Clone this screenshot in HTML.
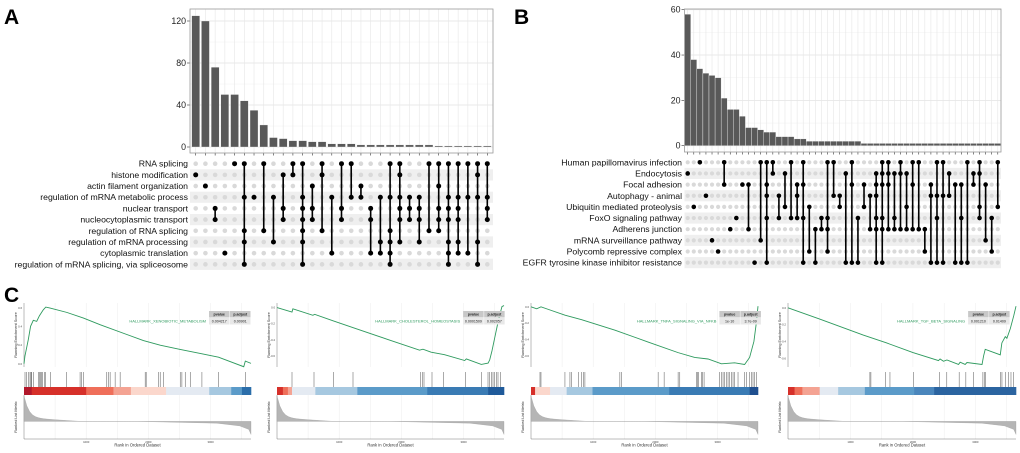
<!DOCTYPE html>
<html><head><meta charset="utf-8">
<style>
html,body{margin:0;padding:0;background:#fff;}
svg{display:block;font-family:"Liberation Sans",sans-serif;}
</style></head>
<body>
<svg id="fig" width="1020" height="453" viewBox="0 0 1020 453" xmlns="http://www.w3.org/2000/svg">
<text x="4" y="24" font-size="21" font-weight="bold">A</text>
<text x="514" y="24" font-size="21" font-weight="bold">B</text>
<text x="4" y="302" font-size="21" font-weight="bold">C</text>
<g id="gA"></g>
<g id="gB"></g>
<g id="gC"></g>
</svg>
<script>
const NS='http://www.w3.org/2000/svg';
// ---- Panel A data ----
const setsA=['RNA splicing','histone modification','actin filament organization','regulation of mRNA metabolic process','nuclear transport','nucleocytoplasmic transport','regulation of RNA splicing','regulation of mRNA processing','cytoplasmic translation','regulation of mRNA splicing, via spliceosome'];
const countsA=[125,120,76,50,50,44,35,21,9,8,6,6,5,5,3,3,3,2,2,2,2,2,2,2,2,1,1,1,1,1,1];
const membersA=[[1],[2],[4,5],[8],[0],[0,3,6,7,9],[3],[0,6],[3,7],[1,4,5],[0,1],[0,3,4,5,6,7,9],[2,4,5],[0,1,6],[3,8],[0,4,5],[0,3],[2,3],[4,5,8],[3,7,8],[0,3,6,7,8,9],[0,1,3,4,5,7],[3,4,5],[3,4,5,7],[0,6],[0,2,4,5,6],[0,3,4,5,7,8,9],[0,3,4,5,7,8],[0,3,8],[0,1,3,7,9],[0,3,4,5]];
const ticksA=[0,40,80,120];
// ---- Panel B data ----
const setsB=['Human papillomavirus infection','Endocytosis','Focal adhesion','Autophagy - animal','Ubiquitin mediated proteolysis','FoxO signaling pathway','Adherens junction','mRNA surveillance pathway','Polycomb repressive complex','EGFR tyrosine kinase inhibitor resistance'];
const countsB=[58,38,34,32,31,30,21,16,16,13,8,8,7,6,6,4,4,4,3,3,2,2,2,2,2,2,2,2,2,1,1,1,1,1,1,1,1,1,1,1,1,1,1,1,1,1,1,1,1,1,1,1];
const membersB=[[1],[4],[0],[3],[7],[8],[0,2],[6],[5],[2],[2,6],[9],[0,7],[0,2,3,5,9],[0,1],[3,5],[1,4],[0,5],[2,3,5],[0,2,5,9],[4,8],[6,9],[5,6],[0,5,6,8],[0,3],[3,4],[1,9],[0,2,9],[5,9],[2,4],[3,6],[1,2,3,5,6,9],[0,1,2,5,6,9],[0,1,2,6],[1,5,6],[0,1,6],[1,4,6],[0,2,6],[0,6],[6,8],[2,3,9],[0,3,5,9],[0,3,9],[1,3],[2,9],[2,5,9],[0,9],[1,2],[0,1,4,5],[2,7],[5,8],[0,4]];
const ticksB=[0,20,40,60];

function el(p,tag,attrs,name,text){
  const e=document.createElementNS(NS,tag);
  for(const k in attrs)e.setAttribute(k,attrs[k]);
  
  
  if(text!==undefined)e.textContent=text;
  p.appendChild(e);return e;
}

function upset(g,cfg,sets,counts,members,ticks){
  const n=counts.length;
  const cx=i=>cfg.c0+i*cfg.step;
  const y=v=>cfg.zeroY-(v-0)*(cfg.zeroY-cfg.topValY)/cfg.maxTick;
  const ry=r=>cfg.r0+r*cfg.rstep;
  el(g,'rect',{x:cfg.x0,y:cfg.boxTop,width:cfg.x1-cfg.x0,height:cfg.boxBot-cfg.boxTop,fill:'#fff',stroke:'none'},'bar-panel-bg');
  for(const t of ticks){
    const tmid=t+ (ticks[1]-ticks[0])/2;
    el(g,'line',{x1:cfg.x0,x2:cfg.x1,y1:y(t),y2:y(t),stroke:'#e3e3e3','stroke-width':0.8},'grid-major');
    if(y(tmid)>cfg.boxTop)el(g,'line',{x1:cfg.x0,x2:cfg.x1,y1:y(tmid),y2:y(tmid),stroke:'#f0f0f0','stroke-width':0.5},'grid-minor');
    el(g,'line',{x1:cfg.x0-3,x2:cfg.x0,y1:y(t),y2:y(t),stroke:'#333','stroke-width':0.6},'y-tick');
    el(g,'text',{x:cfg.x0-4,y:y(t)+3,'font-size':8.8,'text-anchor':'end',fill:'#222'},'y-tick-label',String(t));
  }
  for(let i=0;i<n;i++){
    el(g,'line',{x1:cx(i),x2:cx(i),y1:cfg.boxTop,y2:cfg.boxBot,stroke:'#e6e6e6','stroke-width':0.6},'grid-col');
    el(g,'line',{x1:cx(i),x2:cx(i),y1:cfg.boxBot,y2:cfg.boxBot+2.5,stroke:'#333','stroke-width':0.6},'x-tick');
  }
  for(let i=0;i<n;i++){
    el(g,'rect',{x:cx(i)-cfg.bw/2,y:y(counts[i]),width:cfg.bw,height:y(0)-y(counts[i]),fill:'#595959',stroke:'#fff','stroke-width':0.3},'bar-'+i);
  }
  el(g,'rect',{x:cfg.x0,y:cfg.boxTop,width:cfg.x1-cfg.x0,height:cfg.boxBot-cfg.boxTop,fill:'none',stroke:'#9a9a9a','stroke-width':0.8},'bar-panel-border');
  for(let r=0;r<sets.length;r++){
    if(r%2===1)el(g,'rect',{x:cfg.x0,y:ry(r)-cfg.rstep/2,width:cfg.x1-cfg.x0,height:cfg.rstep,fill:'#efefef'},'row-stripe');
    el(g,'text',{x:cfg.labelX,y:ry(r)+3,'font-size':cfg.fs,'text-anchor':'end',fill:'#111'},'set-label',sets[r]);
  }
  for(let i=0;i<n;i++){
    const m=members[i];
    for(let r=0;r<sets.length;r++){
      if(!m.includes(r))el(g,'circle',{cx:cx(i),cy:ry(r),r:cfg.dr,fill:'#d9d9d9'},'dot-inactive');
    }
    const mn=Math.min(...m),mx=Math.max(...m);
    if(mx>mn)el(g,'line',{x1:cx(i),x2:cx(i),y1:ry(mn),y2:ry(mx),stroke:'#000','stroke-width':1.6},'intersection-line');
    for(const r of m)el(g,'circle',{cx:cx(i),cy:ry(r),r:cfg.dr+0.2,fill:'#000'},'dot-active');
  }
}
upset(document.getElementById('gA'),{x0:190,x1:493,boxTop:9,boxBot:153,zeroY:147,topValY:21,maxTick:120,c0:195.7,step:9.72,bw:8,r0:163.7,rstep:11.18,dr:2.3,labelX:188,fs:8.7},setsA,countsA,membersA,ticksA);
upset(document.getElementById('gB'),{x0:684.5,x1:1001,boxTop:9,boxBot:152,zeroY:145.7,topValY:9.7,maxTick:60,c0:687.7,step:6.08,bw:6,r0:162.3,rstep:11.15,dr:2.1,labelX:682,fs:8.7},setsB,countsB,membersB,ticksB);

// ---- Panel C data (GSEA) ----
const namesC=['HALLMARK_XENOBIOTIC_METABOLISM','HALLMARK_CHOLESTEROL_HOMEOSTASIS','HALLMARK_TNFA_SIGNALING_VIA_NFKB','HALLMARK_TGF_BETA_SIGNALING'];
const pvalC=['0.004217','0.0001509','1e-10','0.001210'];
const padjC=['0.00901','0.002057','3.7e-09','0.01409'];
const esRank1=[0,0.004,0.019,0.029,0.041,0.056,0.068,0.085,0.096,0.115,0.188,0.262,0.335,0.526,0.6,0.688,0.776,0.857,0.968,0.975,1.0];
const esVal1=[0,0.082,0.261,0.404,0.468,0.457,0.518,0.582,0.611,0.6,0.554,0.493,0.421,0.25,0.2,0.154,0.111,0.071,-0.032,0.029,0.004];
const esRank2=[0,0.066,0.07,0.158,0.166,0.247,0.342,0.489,0.628,0.643,0.679,0.738,0.827,0.834,0.9,0.93,0.937,0.947,0.959,0.971,0.981,0.991,1.0];
const esVal2=[0,-0.056,-0.016,-0.096,-0.084,-0.164,-0.256,-0.396,-0.528,-0.516,-0.552,-0.584,-0.656,-0.636,-0.704,-0.688,-0.648,-0.536,-0.376,-0.216,-0.096,0.012,0.024];
const esRank3=[0,0.025,0.044,0.076,0.15,0.223,0.37,0.516,0.648,0.721,0.78,0.839,0.897,0.941,0.963,0.982,0.993,1];
const esVal3=[0,-0.024,0,-0.031,-0.102,-0.157,-0.286,-0.431,-0.561,-0.620,-0.639,-0.698,-0.686,-0.706,-0.620,-0.424,-0.188,0.008];
const esRank4=[0,0.139,0.330,0.433,0.548,0.660,0.667,0.682,0.697,0.748,0.755,0.777,0.785,0.851,0.858,0.865,0.931,0.938,0.953,0.960,0.975,0.990,1];
const esVal4=[0,-0.133,-0.323,-0.417,-0.531,-0.626,-0.607,-0.634,-0.619,-0.672,-0.645,-0.672,-0.649,-0.672,-0.569,-0.493,-0.558,-0.417,-0.342,-0.361,-0.247,-0.095,0.019];
const hits1=[3,8,13,18,21,23,28,43,46,50,53,56,61,65,80,128,168,173,178,248,253,258,273,288,363,366,403,408,418,468,473,483,498,533,583,663];
const hits2=[45,111,170,228,431,436,441,465,500,565,613,633,638,643,648,653,658,663,671];
const hits3=[27,30,102,117,122,142,152,157,162,267,272,382,400,442,447,497,500,504,512,515,520,567,572,577,582,587,592,597,602,607,612,622,642,647,657,662,667,672,677];
const hits4=[245,248,292,305,375,453,475,512,532,555,583,587,590,635,640,650,660,667,675];
const esTicks1=[0,0.2,0.4,0.6];
const esTicks2=[0,-0.2,-0.4,-0.6];
const rankTicks=[1000,2000,3000];
const totalRanks=3650;

const gc=document.getElementById('gC');
const panels=[
 {x0:24,w:227,dom:[-0.035,0.655],r:esRank1,v:esVal1,h:hits1,hw:680,ticks:esTicks1,seg:[[0,0.034,'#b2182b'],[0.034,0.274,'#d6302a'],[0.274,0.394,'#ef6f5a'],[0.394,0.471,'#f4a393'],[0.471,0.626,'#fbd7cc'],[0.626,0.816,'#e4eaf2'],[0.816,0.913,'#a6c8e0'],[0.913,0.96,'#5b9bc9'],[0.96,1,'#2b6eaa']],lab:0.815},
 {x0:277,w:227,dom:[-0.736,0.056],r:esRank2,v:esVal2,h:hits2,hw:681,ticks:esTicks2,seg:[[0,0.026,'#d6302a'],[0.026,0.048,'#ef6f5a'],[0.048,0.066,'#f4a393'],[0.066,0.169,'#e4eaf2'],[0.169,0.354,'#a6c8e0'],[0.354,0.662,'#5b9bc9'],[0.662,0.93,'#3a7bb4'],[0.93,1,'#1f5a9a']],lab:0.82},
 {x0:531,w:227,dom:[-0.737,0.047],r:esRank3,v:esVal3,h:hits3,hw:682,ticks:esTicks2,seg:[[0,0.018,'#d6302a'],[0.018,0.084,'#fbd7cc'],[0.084,0.157,'#e4eaf2'],[0.157,0.271,'#a6c8e0'],[0.271,0.609,'#5b9bc9'],[0.609,0.963,'#3a7bb4'],[0.963,1,'#1f4f8f']],lab:0.83},
 {x0:788,w:228,dom:[-0.702,0.057],r:esRank4,v:esVal4,h:hits4,hw:682,ticks:esTicks2,seg:[[0,0.029,'#d6302a'],[0.029,0.063,'#ef6f5a'],[0.063,0.139,'#f4a393'],[0.139,0.22,'#e4eaf2'],[0.22,0.337,'#a6c8e0'],[0.337,0.553,'#5b9bc9'],[0.553,0.641,'#4a86bc'],[0.641,1,'#2b64a0']],lab:0.79}
];
const T=303,B1=367,T2=372,B2=387,T3=395,B3=439;
panels.forEach((p,k)=>{
  const g=el(gc,'g',{},'gsea-panel-'+(k+1));
  const X=f=>p.x0+f*p.w;
  const Y=v=>B1-(v-p.dom[0])/(p.dom[1]-p.dom[0])*(B1-T);
  for(let r=500;r<totalRanks;r+=500){
    const gx=X(r/totalRanks);
    el(g,'line',{x1:gx,x2:gx,y1:T,y2:B1,stroke:'#ececec','stroke-width':0.5},'grid-line');
    el(g,'line',{x1:gx,x2:gx,y1:T3,y2:B3,stroke:'#ececec','stroke-width':0.5},'grid-line');
  }
  el(g,'line',{x1:p.x0,x2:p.x0,y1:T,y2:B1,stroke:'#555','stroke-width':0.4},'y-axis');
  el(g,'line',{x1:p.x0,x2:p.x0,y1:T3,y2:B3,stroke:'#555','stroke-width':0.4},'y-axis');
  el(g,'line',{x1:p.x0,x2:p.x0+p.w,y1:B3,y2:B3,stroke:'#555','stroke-width':0.4},'x-axis');
  for(const t of p.ticks){
    el(g,'text',{x:p.x0-2,y:Y(t)+1,'font-size':2.8,'text-anchor':'end',fill:'#444'},'es-tick-label',t.toFixed(1));
  }
  el(g,'text',{x:0,y:0,'font-size':3.8,'text-anchor':'middle',fill:'#333',transform:`translate(${p.x0-7},${(T+B1)/2}) rotate(-90)`},'es-axis-title','Running Enrichment Score');
  el(g,'text',{x:0,y:0,'font-size':3.8,'text-anchor':'middle',fill:'#333',transform:`translate(${p.x0-7},${(T3+B3)/2}) rotate(-90)`},'metric-axis-title','Ranked List Metric');
  let d='';
  p.r.forEach((f,i)=>{d+=(i?'L':'M')+X(f).toFixed(2)+','+Y(p.v[i]).toFixed(2);});
  el(g,'path',{d:d,fill:'none',stroke:'#2e9a5e','stroke-width':0.9},'es-curve');
  p.h.forEach(h=>{const hx=X(h/p.hw);el(g,'line',{x1:hx,x2:hx,y1:T2,y2:B2,stroke:'#555','stroke-width':0.5},'hit-tick');});
  p.seg.forEach(s=>el(g,'rect',{x:X(s[0]),y:B2,width:(s[1]-s[0])*p.w+0.3,height:T3-B2,fill:s[2]},'rank-color-segment'));
  const zy=T3+(B3-T3)*0.6;
  let a=`M${X(0)},${zy} L${X(0)},${T3+1}`;
  for(let i=1;i<=40;i++){const f=i/40;const val=f<0.5? (0.85*Math.exp(-f*25)+0.14*(0.5-f)/0.5):0;a+=` L${X(f*0.5)},${zy-val*(zy-T3)}`;}
  a+=` L${X(0.85)},${zy+1.8} L${X(0.95)},${zy+4.5} L${X(0.99)},${zy+8} L${X(1)},${zy+13} L${X(1)},${zy} Z`;
  el(g,'path',{d:a,fill:'#b5b5b5',stroke:'#999','stroke-width':0.3},'ranked-metric-area');
  rankTicks.forEach(t=>el(g,'text',{x:X(t/totalRanks),y:B3+4,'font-size':2.8,'text-anchor':'middle',fill:'#444'},'rank-tick-label',String(t)));
  el(g,'text',{x:p.x0+p.w/2,y:B3+7.5,'font-size':4.2,'text-anchor':'middle',fill:'#333'},'x-axis-title','Rank in Ordered Dataset');
  const tx=X(p.lab);
  el(g,'text',{x:tx-3,y:322.5,'font-size':4.0,'text-anchor':'end',fill:'#2e9a5e'},'gene-set-label',namesC[k]);
  el(g,'rect',{x:tx,y:311,width:20.5,height:6.5,fill:'#c8c8c8'},'table-header');
  el(g,'rect',{x:tx+21,y:311,width:20.5,height:6.5,fill:'#c8c8c8'},'table-header');
  el(g,'rect',{x:tx,y:318,width:20.5,height:6.5,fill:'#e8e8e8'},'table-cell');
  el(g,'rect',{x:tx+21,y:318,width:20.5,height:6.5,fill:'#e8e8e8'},'table-cell');
  el(g,'text',{x:tx+10.25,y:315.7,'font-size':3.6,'text-anchor':'middle','font-weight':'bold',fill:'#222'},'pvalue-header','pvalue');
  el(g,'text',{x:tx+31.25,y:315.7,'font-size':3.6,'text-anchor':'middle','font-weight':'bold',fill:'#222'},'padjust-header','p.adjust');
  el(g,'text',{x:tx+10.25,y:322.7,'font-size':3.6,'text-anchor':'middle',fill:'#222'},'pvalue-value',pvalC[k]);
  el(g,'text',{x:tx+31.25,y:322.7,'font-size':3.6,'text-anchor':'middle',fill:'#222'},'padjust-value',padjC[k]);
});
</script>
</body></html>
